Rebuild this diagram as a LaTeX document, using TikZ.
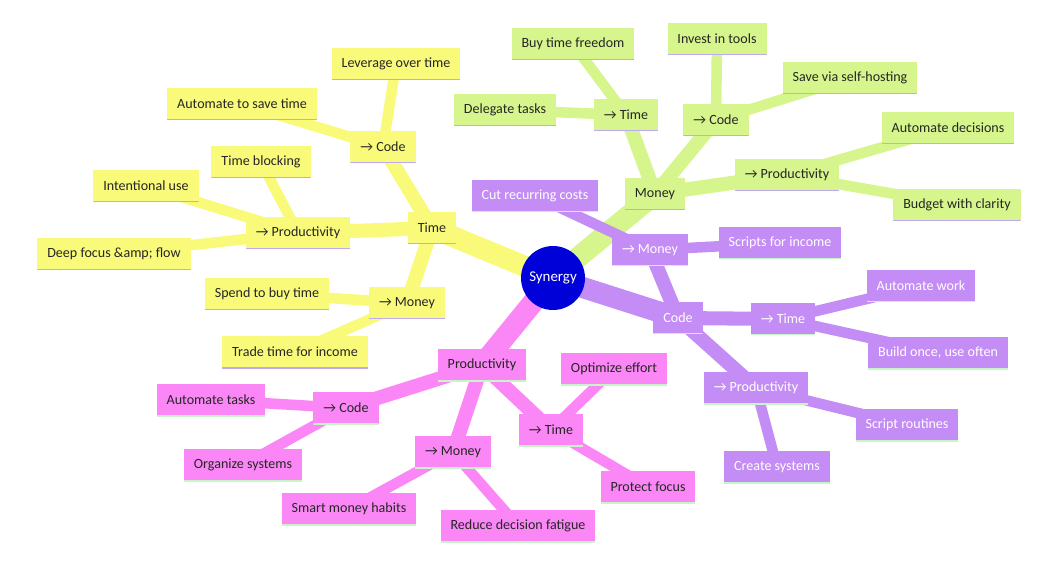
\documentclass[tikz,border=0pt]{standalone}
\usepackage{fontspec}
\setmainfont{Carlito}
\usetikzlibrary{backgrounds}
\definecolor{cy}{RGB}{250,250,122}
\definecolor{cg}{RGB}{214,245,140}
\definecolor{cp}{RGB}{196,140,245}
\definecolor{ck}{RGB}{250,135,245}
\definecolor{uy}{RGB}{190,170,240}
\definecolor{ug}{RGB}{200,245,200}
\tikzset{
  bx/.style={rectangle,minimum height=0.64cm,inner xsep=0.2cm,font=\fontsize{8}{9}\selectfont,
    path picture={\draw[line width=1.2pt,#1] (path picture bounding box.south west) -- (path picture bounding box.south east);}},
  yn/.style={bx=uy,fill=cy,text=black!85},
  gn/.style={bx=uy,fill=cg,text=black!85},
  pn/.style={bx=ug,fill=cp,text=white},
  kn/.style={bx=ug,fill=ck,text=black!85},
  e1/.style={line width=12pt},
  e2/.style={line width=8pt},
  e3/.style={line width=6pt},
}
\begin{document}
\begin{tikzpicture}[x=0.02cm,y=-0.02cm]
\useasboundingbox (0,0) rectangle (1050,574);
\node[circle,fill=blue!85!black,text=white,minimum size=1.28cm,inner sep=0pt,font=\fontsize{8.5}{10}\selectfont] (S) at (553,278) {Synergy};
% yellow
\node[yn] (yT) at (432,228) {Time};
\node[yn] (yC) at (383,147) {→ Code};
\node[yn] (y1) at (396,64) {Leverage over time};
\node[yn] (y2) at (242,104) {Automate to save time};
\node[yn] (yP) at (298,233) {→ Productivity};
\node[yn] (y3) at (261,162) {Time blocking};
\node[yn] (y4) at (146,186) {Intentional use};
\node[yn] (y5) at (114,254) {Deep focus \&amp; flow};
\node[yn] (yM) at (407,303) {→ Money};
\node[yn] (y6) at (267,294) {Spend to buy time};
\node[yn] (y7) at (295,352) {Trade time for income};
% green
\node[gn] (gM) at (655,194) {Money};
\node[gn] (gT) at (626,115) {→ Time};
\node[gn] (g1) at (573,44) {Buy time freedom};
\node[gn] (g2) at (505,110) {Delegate tasks};
\node[gn] (gC) at (716,120) {→ Code};
\node[gn] (g3) at (717,39) {Invest in tools};
\node[gn] (g4) at (850,78) {Save via self-hosting};
\node[gn] (gP) at (787,175) {→ Productivity};
\node[gn] (g5) at (948,128) {Automate decisions};
\node[gn] (g6) at (957,205) {Budget with clarity};
% purple
\node[pn] (pC) at (678,318) {Code};
\node[pn] (pM) at (650,250) {→ Money};
\node[pn] (p1) at (535,196) {Cut recurring costs};
\node[pn] (p2) at (780,243) {Scripts for income};
\node[pn] (pT) at (783,319) {→ Time};
\node[pn] (p3) at (921,286) {Automate work};
\node[pn] (p4) at (938,353) {Build once, use often};
\node[pn] (pP) at (756,388) {→ Productivity};
\node[pn] (p5) at (907,425) {Script routines};
\node[pn] (p6) at (777,467) {Create systems};
% pink
\node[kn] (kP) at (482,365) {Productivity};
\node[kn] (kC) at (346,408) {→ Code};
\node[kn] (k1) at (211,400) {Automate tasks};
\node[kn] (k2) at (243,465) {Organize systems};
\node[kn] (kM) at (453,452) {→ Money};
\node[kn] (k3) at (349,509) {Smart money habits};
\node[kn] (k4) at (518,526) {Reduce decision fatigue};
\node[kn] (kT) at (551,430) {→ Time};
\node[kn] (k5) at (614,369) {Optimize effort};
\node[kn] (k6) at (648,487) {Protect focus};
\begin{scope}[on background layer]
\draw[cy,e1] (S.center) -- (yT.center);
\draw[cy,e2] (yT.center) -- (yC.center) (yT.center) -- (yP.center) (yT.center) -- (yM.center);
\draw[cy,e3] (yC.center) -- (y1.center) (yC.center) -- (y2.center) (yP.center) -- (y3.center) (yP.center) -- (y4.center) (yP.center) -- (y5.center) (yM.center) -- (y6.center) (yM.center) -- (y7.center);
\draw[cg,e1] (S.center) -- (gM.center);
\draw[cg,e2] (gM.center) -- (gT.center) (gM.center) -- (gC.center) (gM.center) -- (gP.center);
\draw[cg,e3] (gT.center) -- (g1.center) (gT.center) -- (g2.center) (gC.center) -- (g3.center) (gC.center) -- (g4.center) (gP.center) -- (g5.center) (gP.center) -- (g6.center);
\draw[cp,e1] (S.center) -- (pC.center);
\draw[cp,e2] (pC.center) -- (pM.center) (pC.center) -- (pT.center) (pC.center) -- (pP.center);
\draw[cp,e3] (pM.center) -- (p1.center) (pM.center) -- (p2.center) (pT.center) -- (p3.center) (pT.center) -- (p4.center) (pP.center) -- (p5.center) (pP.center) -- (p6.center);
\draw[ck,e1] (S.center) -- (kP.center);
\draw[ck,e2] (kP.center) -- (kC.center) (kP.center) -- (kM.center) (kP.center) -- (kT.center);
\draw[ck,e3] (kC.center) -- (k1.center) (kC.center) -- (k2.center) (kM.center) -- (k3.center) (kM.center) -- (k4.center) (kT.center) -- (k5.center) (kT.center) -- (k6.center);
\end{scope}
\end{tikzpicture}
\end{document}
